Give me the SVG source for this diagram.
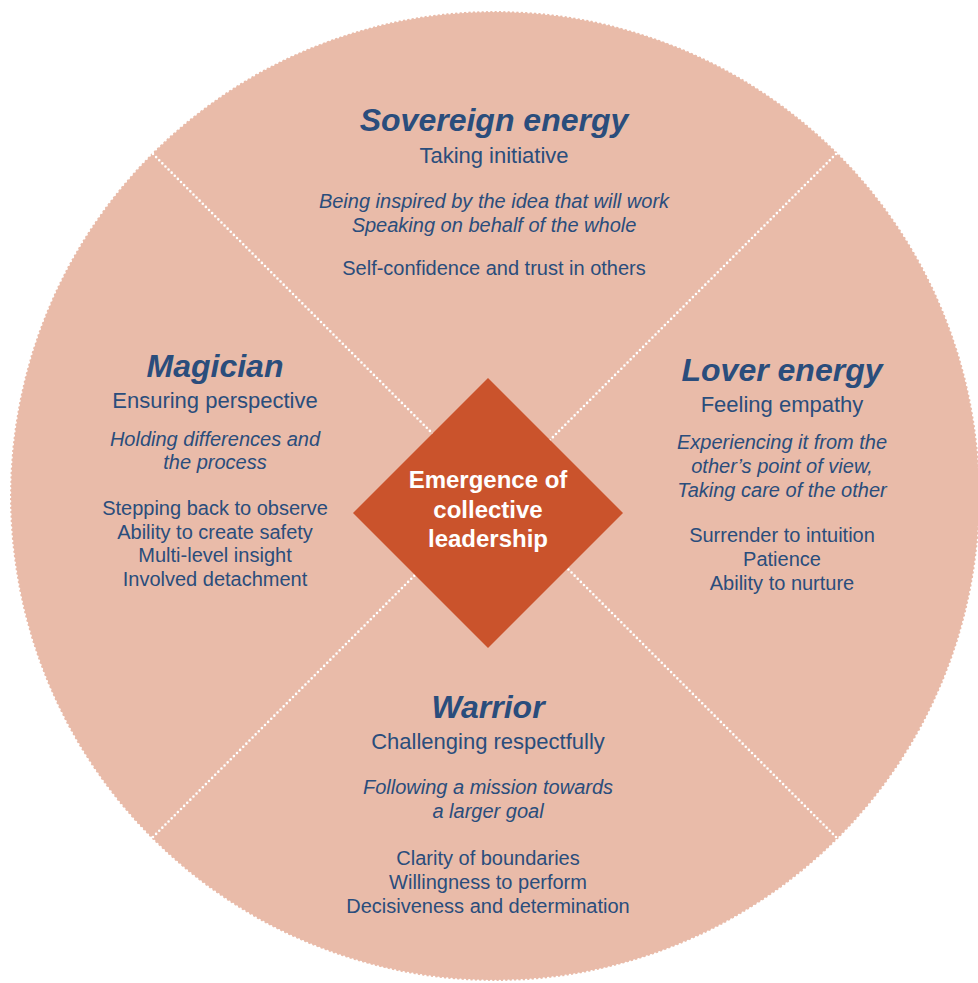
<svg xmlns="http://www.w3.org/2000/svg" width="978" height="983" viewBox="0 0 978 983">
<style>
text{font-family:"Liberation Sans",Arial,sans-serif;fill:#2a4d7c;text-anchor:middle}
.t{font-size:32px;font-weight:bold;font-style:italic}
.s{font-size:22px}
.i{font-size:20px;font-style:italic}
.l{font-size:20px}
.c{font-size:24px;font-weight:bold;fill:#ffffff}
.dot{fill:none;stroke:#ffffff;stroke-width:2.6;stroke-linecap:round;stroke-dasharray:0 4.4}
</style>
<rect width="978" height="983" fill="#ffffff"/>
<g id="background">
<circle cx="495" cy="496" r="485" fill="#e9bba9"/>
<circle cx="495" cy="496" r="485" class="dot" stroke-width="1.6" stroke-dasharray="0 3"/>
</g>
<g id="connectors">
<line class="dot" x1="153" y1="154" x2="494.5" y2="495.5"/>
<line class="dot" x1="836" y1="154" x2="494.5" y2="495.5"/>
<line class="dot" x1="153" y1="837" x2="494.5" y2="495.5"/>
<line class="dot" x1="836" y1="837" x2="494.5" y2="495.5"/>
</g>
<g id="sovereign">
<text class="t" x="494" y="131">Sovereign energy</text>
<text class="s" x="494" y="163">Taking initiative</text>
<text class="i" x="494" y="208">Being inspired by the idea that will work</text>
<text class="i" x="494" y="232">Speaking on behalf of the whole</text>
<text class="l" x="494" y="275">Self-confidence and trust in others</text>
</g>
<g id="magician">
<text class="t" x="215" y="377">Magician</text>
<text class="s" x="215" y="408">Ensuring perspective</text>
<text class="i" x="215" y="446">Holding differences and</text>
<text class="i" x="215" y="469">the process</text>
<text class="l" x="215" y="515">Stepping back to observe</text>
<text class="l" x="215" y="539">Ability to create safety</text>
<text class="l" x="215" y="562">Multi-level insight</text>
<text class="l" x="215" y="586">Involved detachment</text>
</g>
<g id="lover">
<text class="t" x="782" y="381">Lover energy</text>
<text class="s" x="782" y="412">Feeling empathy</text>
<text class="i" x="782" y="449">Experiencing it from the</text>
<text class="i" x="782" y="473">other’s point of view,</text>
<text class="i" x="782" y="497">Taking care of the other</text>
<text class="l" x="782" y="542">Surrender to intuition</text>
<text class="l" x="782" y="566">Patience</text>
<text class="l" x="782" y="590">Ability to nurture</text>
</g>
<g id="warrior">
<text class="t" x="488" y="718">Warrior</text>
<text class="s" x="488" y="749">Challenging respectfully</text>
<text class="i" x="488" y="794">Following a mission towards</text>
<text class="i" x="488" y="818">a larger goal</text>
<text class="l" x="488" y="865">Clarity of boundaries</text>
<text class="l" x="488" y="889">Willingness to perform</text>
<text class="l" x="488" y="913">Decisiveness and determination</text>
</g>
<g id="center">
<polygon points="488,378 623,513 488,648 353,513" fill="#ca532c"/>
<text class="c" x="488" y="488">Emergence of</text>
<text class="c" x="488" y="518">collective</text>
<text class="c" x="488" y="547">leadership</text>
</g>
</svg>
